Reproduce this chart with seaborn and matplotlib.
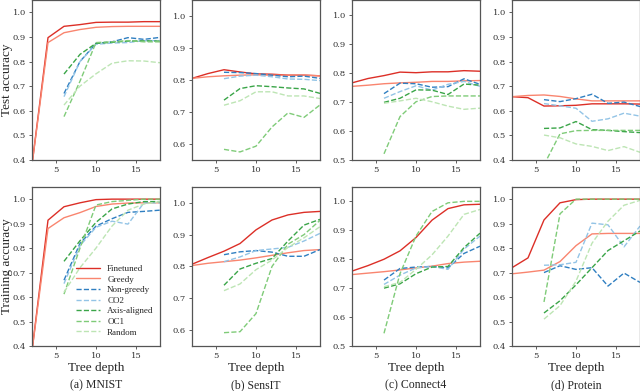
import numpy as np
import pandas as pd
import matplotlib
matplotlib.use("Agg")
import matplotlib.pyplot as plt
import seaborn as sns

sns.set_style("ticks")
plt.rcParams['font.family'] = ['DejaVu Serif']

depth_full = [2, 4, 6, 8, 10, 12, 14, 16, 18]
depth_part = [6, 8, 10, 12, 14, 16, 18]
methods = ['Finetuned', 'Greedy', 'Non-greedy', 'CO2', 'Axis-aligned', 'OC1', 'Random']
datasets = ['MNIST', 'SensIT', 'Connect4', 'Protein']
captions = ['(a) MNIST', '(b) SensIT', '(c) Connect4', '(d) Protein']
ylims = [(0.4, 1.05), (0.55, 1.05), (0.5, 1.05), (0.4, 1.05)]
yticks = [[0.4, 0.5, 0.6, 0.7, 0.8, 0.9, 1.0],
          [0.6, 0.7, 0.8, 0.9, 1.0],
          [0.5, 0.6, 0.7, 0.8, 0.9, 1.0],
          [0.4, 0.5, 0.6, 0.7, 0.8, 0.9, 1.0]]

# test accuracy
test_mnist = {
    'Finetuned':    [0.38, 0.897, 0.943, 0.95, 0.959, 0.96, 0.96, 0.962, 0.962],
    'Greedy':       [0.38, 0.877, 0.917, 0.93, 0.939, 0.942, 0.943, 0.943, 0.943],
    'Non-greedy':   [0.67, 0.80, 0.874, 0.88, 0.897, 0.89, 0.898],
    'CO2':          [0.657, 0.80, 0.87, 0.875, 0.877, 0.885, 0.885],
    'Axis-aligned': [0.749, 0.829, 0.874, 0.878, 0.883, 0.884, 0.883],
    'OC1':          [0.576, 0.72, 0.877, 0.88, 0.885, 0.88, 0.88],
    'Random':       [0.623, 0.70, 0.75, 0.793, 0.803, 0.802, 0.795],
}
test_sensit = {
    'Finetuned':    [0.805, 0.82, 0.832, 0.825, 0.819, 0.818, 0.815, 0.815, 0.813],
    'Greedy':       [0.805, 0.81, 0.813, 0.815, 0.816, 0.815, 0.815, 0.815, 0.813],
    'Non-greedy':   [0.824, 0.823, 0.82, 0.815, 0.81, 0.812, 0.805],
    'CO2':          [0.804, 0.812, 0.815, 0.81, 0.803, 0.802, 0.798],
    'Axis-aligned': [0.737, 0.773, 0.782, 0.779, 0.775, 0.772, 0.758],
    'OC1':          [0.583, 0.575, 0.593, 0.653, 0.697, 0.683, 0.722],
    'Random':       [0.721, 0.735, 0.763, 0.763, 0.75, 0.75, 0.742],
}
test_connect4 = {
    'Finetuned':    [0.765, 0.78, 0.79, 0.802, 0.80, 0.803, 0.803, 0.807, 0.805],
    'Greedy':       [0.753, 0.757, 0.762, 0.765, 0.767, 0.77, 0.77, 0.772, 0.773],
    'Non-greedy':   [0.728, 0.764, 0.762, 0.75, 0.752, 0.779, 0.76],
    'CO2':          [0.712, 0.735, 0.755, 0.74, 0.76, 0.77, 0.753],
    'Axis-aligned': [0.698, 0.712, 0.741, 0.74, 0.725, 0.761, 0.757],
    'OC1':          [0.521, 0.649, 0.70, 0.718, 0.72, 0.72, 0.72],
    'Random':       [0.695, 0.703, 0.712, 0.70, 0.685, 0.674, 0.678],
}
test_protein = {
    'Finetuned':    [0.657, 0.653, 0.619, 0.62, 0.622, 0.628, 0.628, 0.628, 0.627],
    'Greedy':       [0.657, 0.662, 0.664, 0.658, 0.648, 0.64, 0.64, 0.64, 0.64],
    'Non-greedy':   [0.645, 0.637, 0.649, 0.667, 0.63, 0.635, 0.617],
    'CO2':          [0.629, 0.62, 0.61, 0.557, 0.567, 0.59, 0.578],
    'Axis-aligned': [0.528, 0.53, 0.556, 0.523, 0.52, 0.515, 0.511],
    'OC1':          [0.38, 0.506, 0.519, 0.52, 0.52, 0.52, 0.52],
    'Random':       [0.501, 0.49, 0.465, 0.455, 0.438, 0.454, 0.431],
}

# training accuracy
train_mnist = {
    'Finetuned':    [0.38, 0.914, 0.969, 0.985, 0.998, 1.0, 1.0, 1.0, 1.0],
    'Greedy':       [0.38, 0.88, 0.924, 0.945, 0.97, 0.98, 0.984, 0.985, 0.985],
    'Non-greedy':   [0.669, 0.819, 0.89, 0.92, 0.946, 0.95, 0.955],
    'CO2':          [0.655, 0.81, 0.885, 0.91, 0.898, 0.985, 0.985],
    'Axis-aligned': [0.746, 0.83, 0.905, 0.96, 0.98, 0.99, 0.99],
    'OC1':          [0.612, 0.80, 0.976, 0.99, 0.995, 1.0, 1.0],
    'Random':       [0.62, 0.72, 0.80, 0.89, 0.955, 0.98, 0.99],
}
train_sensit = {
    'Finetuned':    [0.807, 0.828, 0.848, 0.872, 0.915, 0.946, 0.962, 0.97, 0.973],
    'Greedy':       [0.803, 0.81, 0.815, 0.82, 0.827, 0.835, 0.843, 0.85, 0.853],
    'Non-greedy':   [0.837, 0.846, 0.85, 0.845, 0.832, 0.832, 0.853],
    'CO2':          [0.815, 0.83, 0.85, 0.855, 0.86, 0.88, 0.904],
    'Axis-aligned': [0.741, 0.792, 0.81, 0.825, 0.88, 0.93, 0.948],
    'OC1':          [0.592, 0.595, 0.652, 0.80, 0.87, 0.90, 0.945],
    'Random':       [0.724, 0.745, 0.79, 0.82, 0.86, 0.89, 0.925],
}
train_connect4 = {
    'Finetuned':    [0.759, 0.778, 0.80, 0.829, 0.875, 0.935, 0.975, 0.988, 0.99],
    'Greedy':       [0.747, 0.752, 0.757, 0.763, 0.77, 0.776, 0.785, 0.79, 0.793],
    'Non-greedy':   [0.728, 0.768, 0.773, 0.775, 0.77, 0.82, 0.845],
    'CO2':          [0.713, 0.745, 0.77, 0.775, 0.765, 0.835, 0.88],
    'Axis-aligned': [0.70, 0.715, 0.75, 0.773, 0.775, 0.84, 0.89],
    'OC1':          [0.544, 0.75, 0.88, 0.965, 0.995, 1.0, 1.0],
    'Random':       [0.705, 0.72, 0.765, 0.815, 0.88, 0.955, 0.972],
}
train_protein = {
    'Finetuned':    [0.72, 0.76, 0.915, 0.985, 0.998, 1.0, 1.0, 1.0, 1.0],
    'Greedy':       [0.695, 0.702, 0.71, 0.745, 0.81, 0.858, 0.86, 0.86, 0.86],
    'Non-greedy':   [0.70, 0.728, 0.713, 0.72, 0.645, 0.698, 0.66],
    'CO2':          [0.73, 0.732, 0.742, 0.902, 0.895, 0.805, 0.89],
    'Axis-aligned': [0.535, 0.585, 0.65, 0.72, 0.79, 0.83, 0.87],
    'OC1':          [0.58, 0.94, 1.0, 1.0, 1.0, 1.0, 1.0],
    'Random':       [0.51, 0.565, 0.665, 0.82, 0.91, 0.975, 0.995],
}

test_data = [test_mnist, test_sensit, test_connect4, test_protein]
train_data = [train_mnist, train_sensit, train_connect4, train_protein]

palette = {'Finetuned': '#dc2f27', 'Greedy': '#f9856f', 'Non-greedy': '#2f7fc1',
           'CO2': '#93c4e6', 'Axis-aligned': '#3aa548', 'OC1': '#7fcb78',
           'Random': '#bde5b4'}
dashes = {m: ('' if m in ('Finetuned', 'Greedy') else (3.7, 1.6)) for m in methods}


def to_frame(d):
    rows = []
    for m in methods:
        xs = depth_full if len(d[m]) == 9 else depth_part
        for x, v in zip(xs, d[m]):
            rows.append((m, x, v))
    return pd.DataFrame(rows, columns=['method', 'depth', 'acc'])


fig = plt.figure(figsize=(6.4, 3.91), dpi=100)
lefts = [0.05, 0.30, 0.55, 0.80]
for row, (data, bottom, height) in enumerate([(test_data, 0.591, 0.409),
                                             (train_data, 0.115, 0.407)]):
    for col in range(4):
        ax = fig.add_axes([lefts[col], bottom, 0.2, height])
        df = to_frame(data[col])
        show_leg = (row == 1 and col == 0)
        sns.lineplot(data=df, x='depth', y='acc', hue='method', style='method',
                     hue_order=methods, style_order=methods, palette=palette,
                     dashes=dashes, linewidth=1.0, ax=ax, legend=show_leg)
        ax.set_xlim(2, 18)
        ax.set_ylim(*ylims[col])
        ax.set_xticks([5, 10, 15])
        ax.set_yticks(yticks[col])
        ax.tick_params(labelsize=6, length=2.5, width=0.6, color='#444444',
                       labelcolor='#333333', pad=2)
        for s in ax.spines.values():
            s.set_color('#555555')
            s.set_linewidth(0.9)
        ax.set_ylabel('')
        ax.set_xlabel('')
        if col == 0:
            ax.set_ylabel('Test accuracy' if row == 0 else 'Training accuracy',
                          fontsize=9.5, family='Liberation Serif')
            ax.yaxis.set_label_coords(-0.145, 0.5)
        if row == 1:
            ax.set_xlabel('Tree depth', fontsize=9.5, family='Liberation Serif',
                          labelpad=1)
            ax.text(0.5, -0.245, captions[col], transform=ax.transAxes,
                    ha='center', va='center', fontsize=8.5,
                    family='Liberation Serif')
        if show_leg:
            leg = ax.legend(loc='lower right', frameon=False,
                            prop={'family': 'Liberation Serif', 'size': 6.5},
                            handlelength=2.6, labelspacing=0.25,
                            borderaxespad=0.3, bbox_to_anchor=(1.0, 0.02))
            for h in leg.get_lines():
                h.set_linewidth(1.0)

fig.savefig('out.png', dpi=100)
